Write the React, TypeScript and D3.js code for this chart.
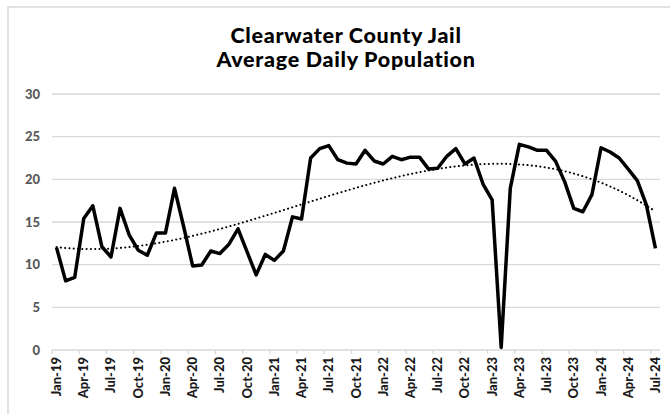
import React, { useEffect, useRef } from "react";
import * as d3 from "d3";

const TITLE_LINES = ["Clearwater County Jail", "Average Daily Population"];

const MONTHS = [
  "Jan-19","Feb-19","Mar-19","Apr-19","May-19","Jun-19","Jul-19","Aug-19","Sep-19","Oct-19","Nov-19","Dec-19",
  "Jan-20","Feb-20","Mar-20","Apr-20","May-20","Jun-20","Jul-20","Aug-20","Sep-20","Oct-20","Nov-20","Dec-20",
  "Jan-21","Feb-21","Mar-21","Apr-21","May-21","Jun-21","Jul-21","Aug-21","Sep-21","Oct-21","Nov-21","Dec-21",
  "Jan-22","Feb-22","Mar-22","Apr-22","May-22","Jun-22","Jul-22","Aug-22","Sep-22","Oct-22","Nov-22","Dec-22",
  "Jan-23","Feb-23","Mar-23","Apr-23","May-23","Jun-23","Jul-23","Aug-23","Sep-23","Oct-23","Nov-23","Dec-23",
  "Jan-24","Feb-24","Mar-24","Apr-24","May-24","Jun-24","Jul-24",
];

const ADP = [
  12.0, 8.1, 8.5, 15.4, 16.9, 12.1, 10.9, 16.6, 13.5, 11.7, 11.1, 13.7,
  13.7, 18.95, 14.5, 9.85, 9.96, 11.6, 11.3, 12.4, 14.2, 11.5, 8.8, 11.2,
  10.5, 11.6, 15.6, 15.35, 22.5, 23.6, 23.95, 22.3, 21.9, 21.8, 23.4, 22.15,
  21.8, 22.7, 22.3, 22.6, 22.6, 21.2, 21.3, 22.7, 23.6, 21.8, 22.5, 19.45,
  17.6, 0.3, 18.95, 24.1, 23.8, 23.4, 23.4, 22.1, 19.7, 16.6, 16.2, 18.2,
  23.7, 23.2, 22.5, 21.2, 19.85, 17.0, 11.9,
];

const Y_TICKS = [0, 5, 10, 15, 20, 25, 30];
const TREND_ORDER = 3;

// least-squares polynomial trendline (as Excel computes it)
function polyFit(ys: number[], order: number) {
  const n = ys.length;
  const xs = ys.map((_, i) => i + 1);
  const mx = d3.mean(xs) as number;
  const sx = (n - 1) / 2;
  const t = xs.map((x) => (x - mx) / sx);
  const m = order + 1;
  const A: number[][] = Array.from({ length: m }, () => new Array(m + 1).fill(0));
  for (let k = 0; k < n; k++) {
    for (let r = 0; r < m; r++) {
      for (let c = 0; c < m; c++) A[r][c] += Math.pow(t[k], r + c);
      A[r][m] += ys[k] * Math.pow(t[k], r);
    }
  }
  for (let i = 0; i < m; i++) {
    let p = i;
    for (let r = i + 1; r < m; r++) if (Math.abs(A[r][i]) > Math.abs(A[p][i])) p = r;
    [A[i], A[p]] = [A[p], A[i]];
    for (let r = 0; r < m; r++) {
      if (r === i) continue;
      const f = A[r][i] / A[i][i];
      for (let c = i; c <= m; c++) A[r][c] -= f * A[i][c];
    }
  }
  const coef = A.map((row, i) => row[m] / row[i]);
  return (x: number) => {
    const tt = (x - mx) / sx;
    return coef.reduce((s, c, i) => s + c * Math.pow(tt, i), 0);
  };
}

export default function App() {
  const ref = useRef<SVGSVGElement | null>(null);

  useEffect(() => {
    const svg = d3.select(ref.current);
    svg.selectAll("*").remove();
    const W = 670, H = 414;
    const left = 52, right = 660, top = 94, bottom = 350;
    const font = "'Lato', 'DejaVu Sans', sans-serif";

    svg.append("rect")
      .attr("x", 8).attr("y", 7).attr("width", W + 20).attr("height", H + 20)
      .attr("fill", "#fff").attr("stroke", "#d9d9d9").attr("stroke-width", 1.5);

    const x = d3.scaleBand<string>().domain(MONTHS).range([left, right]).paddingInner(0).paddingOuter(0);
    const y = d3.scaleLinear().domain([0, 30]).range([bottom, top]);
    const cx = (i: number) => (x(MONTHS[i]) as number) + x.bandwidth() / 2;

    // title
    const title = svg.append("text").attr("text-anchor", "middle")
      .attr("font-family", font).attr("font-weight", 900).attr("font-size", 21.5)
      .attr("letter-spacing", 0.7).attr("fill", "#000");
    TITLE_LINES.forEach((line, i) => {
      title.append("tspan").attr("x", 346).attr("y", 43 + i * 24).text(line);
    });

    // gridlines
    svg.append("g").selectAll("line").data(Y_TICKS).join("line")
      .attr("x1", left).attr("x2", right)
      .attr("y1", (d) => y(d)).attr("y2", (d) => y(d))
      .attr("stroke", "#d9d9d9").attr("stroke-width", 1.3);

    // y labels
    svg.append("g").selectAll("text").data(Y_TICKS).join("text")
      .attr("x", 40).attr("y", (d) => y(d)).attr("dy", "0.35em")
      .attr("text-anchor", "end").attr("font-family", font).attr("font-weight", 900)
      .attr("font-size", 13).attr("fill", "#595959").text((d) => String(d));

    // x tick marks at category boundaries every 3 months
    const tickIdx = d3.range(0, MONTHS.length, 3);
    svg.append("g").selectAll("line").data(tickIdx).join("line")
      .attr("x1", (i) => x(MONTHS[i]) as number).attr("x2", (i) => x(MONTHS[i]) as number)
      .attr("y1", bottom).attr("y2", bottom + 4)
      .attr("stroke", "#d9d9d9").attr("stroke-width", 1.3);

    // x labels
    svg.append("g").selectAll("text").data(tickIdx).join("text")
      .attr("transform", (i) => `translate(${cx(i) + 4.5},${bottom + 7}) rotate(-90)`)
      .attr("text-anchor", "end").attr("font-family", font).attr("font-weight", 900)
      .attr("font-size", 13).attr("fill", "#1a1a1a").text((i) => MONTHS[i]);

    // data line
    const line = d3.line<number>().x((_, i) => cx(i)).y((d) => y(d));
    svg.append("path").datum(ADP).attr("d", line)
      .attr("fill", "none").attr("stroke", "#000").attr("stroke-width", 3.5)
      .attr("stroke-linejoin", "round");

    // trendline
    const f = polyFit(ADP, TREND_ORDER);
    const tPts = d3.range(0, MONTHS.length - 1 + 0.001, 0.25);
    const tLine = d3.line<number>()
      .x((i) => left + x.bandwidth() * (i + 0.5))
      .y((i) => y(f(i + 1)))
      .curve(d3.curveMonotoneX);
    svg.append("path").datum(tPts).attr("d", tLine)
      .attr("fill", "none").attr("stroke", "#000").attr("stroke-width", 2)
      .attr("stroke-dasharray", "0.1,4.2").attr("stroke-linecap", "round");
  }, []);

  return (
    <svg ref={ref} width={670} height={414}
      style={{ position: "absolute", left: 0, top: 0, background: "#fff" }} />
  );
}
